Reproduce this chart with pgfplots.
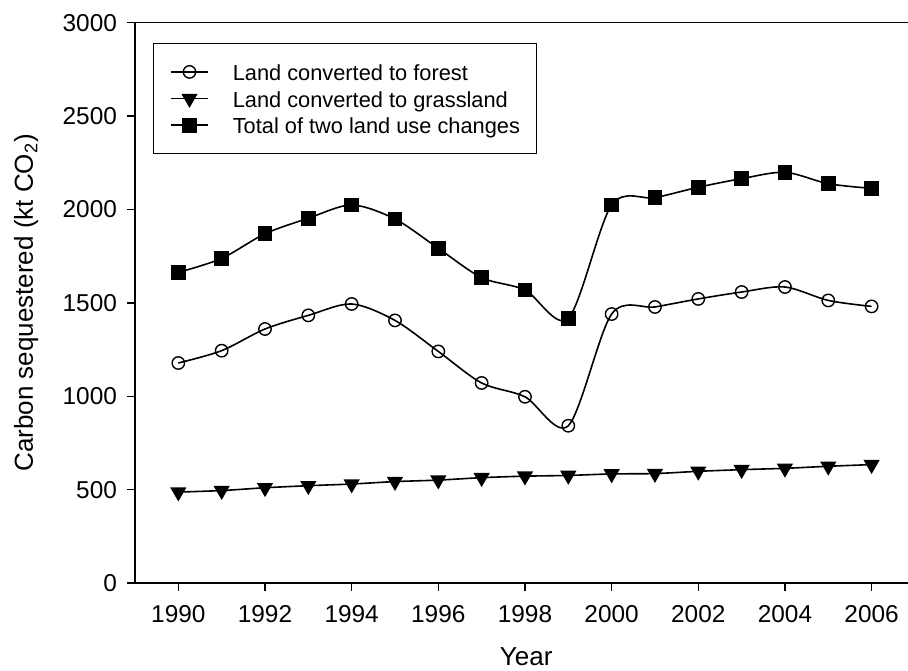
\documentclass[border=0pt]{standalone}
\usepackage{fontspec}
\setmainfont{Liberation Sans}
\usepackage{pgfplots}
\pgfplotsset{compat=1.18}

% land use change series, kt CO2 per year
\pgfplotstableread{
year forest grass total
1990 1178 487 1663
1991 1244 495 1738
1992 1360 510 1870
1993 1433 521 1953
1994 1494 530 2024
1995 1406 543 1949
1996 1240 551 1792
1997 1071 564 1635
1998  997 572 1569
1999  842 576 1417
2000 1440 584 2024
2001 1478 586 2063
2002 1521 598 2119
2003 1558 607 2165
2004 1585 614 2199
2005 1513 625 2138
2006 1481 634 2113
}\landuse

\begin{document}
\begin{tikzpicture}
\begin{axis}[
    width=386.5pt,
    height=280.15pt,
    scale only axis,
    xmin=1989, xmax=2006.84,
    ymin=0, ymax=3000,
    axis x line*=box,
    axis y line*=left,
    axis line style={-, line width=0.7pt, black},
    xtick={1990,1992,...,2006},
    ytick={0,500,...,3000},
    xtick pos=left,
    ytick pos=left,
    tick align=outside,
    major tick length=4pt,
    tick style={line width=0.7pt, black},
    minor tick num=0,
    /pgf/number format/1000 sep={},
    /pgf/number format/assume math mode=true,
    tick label style={font=\fontsize{12.2}{14}\selectfont},
    x tick label style={yshift=-3.8pt},
    y tick label style={xshift=-1.5pt},
    xlabel={Year},
    ylabel={Carbon sequestered (kt CO\textsubscript{2})},
    label style={font=\fontsize{13}{15}\selectfont},
    xlabel style={at={(axis description cs:0.506,-0.147)}, anchor=base},
    ylabel style={at={(axis description cs:-0.132,0.5)}, anchor=base},
    legend cell align=left,
    legend image code/.code={
        \draw[mark repeat=2,mark phase=2]
            plot coordinates {(0pt,0pt)(9.25pt,0pt)(18.5pt,0pt)};
    },
    legend style={
        at={(axis description cs:0,1)},
        anchor=north west,
        xshift=9pt, yshift=-10pt,
        draw=black, line width=0.7pt,
        font=\fontsize{10.9}{12}\selectfont,
        inner xsep=8.25pt, inner ysep=9pt,
        row sep=2.8pt, column sep=12pt,
        nodes={inner sep=0pt, text height=9.5pt, text depth=1pt}
    },
    every axis plot/.append style={black, line width=0.8pt, smooth}
]

\addplot[mark=o, mark size=3.1pt, mark options={fill=white, line width=0.7pt}]
    table[x=year, y=forest] {\landuse};
\addlegendentry{Land converted to forest}

\addplot[mark=triangle*, mark size=3.9pt, mark options={rotate=180, fill=black}]
    table[x=year, y=grass] {\landuse};
\addlegendentry{Land converted to grassland}

\addplot[mark=square*, mark size=3.3pt, mark options={fill=black}]
    table[x=year, y=total] {\landuse};
\addlegendentry{Total of two land use changes}

\end{axis}
\pgfresetboundingbox
\useasboundingbox ([xshift=-67.5pt,yshift=-43.5pt]current axis.south west)
    rectangle ([yshift=11.35pt]current axis.north east);
\end{tikzpicture}
\end{document}
